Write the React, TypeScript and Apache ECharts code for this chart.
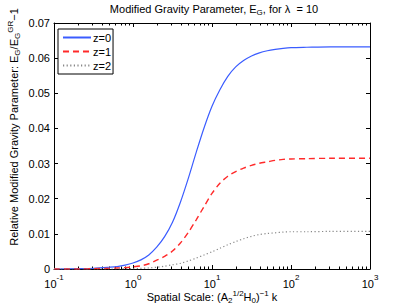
import React, { useEffect, useRef } from "react";
import * as echarts from "echarts";

const kValues = [0.1, 0.2, 0.316, 0.501, 0.631, 0.794, 1, 1.259, 1.585, 1.995, 2.512, 3.162, 3.981, 5.012, 6.31, 7.943, 10, 12.59, 15.85, 19.95, 25.12, 31.62, 39.81, 50.12, 63.1, 79.43, 100, 158.5, 316.2, 1000];
const z0Values = [0, 0.0001, 0.0002, 0.0005, 0.0007, 0.0011, 0.0017, 0.0026, 0.004, 0.0062, 0.0092, 0.0133, 0.019, 0.0258, 0.0332, 0.0402, 0.0463, 0.051, 0.0548, 0.0575, 0.0593, 0.0606, 0.0615, 0.0621, 0.0625, 0.0628, 0.063, 0.0631, 0.0632, 0.0632];
const z1Values = [0, 0, 0.0001, 0.0002, 0.0003, 0.0004, 0.0006, 0.0009, 0.0015, 0.0025, 0.0036, 0.0051, 0.0074, 0.0104, 0.014, 0.0178, 0.0215, 0.0244, 0.0264, 0.0277, 0.0287, 0.0295, 0.0301, 0.0305, 0.0309, 0.0312, 0.0313, 0.0314, 0.0315, 0.0315];
const z2Values = [0, 0, 0, 0, 0, 0.0001, 0.0001, 0.0002, 0.0003, 0.0005, 0.0008, 0.0012, 0.0016, 0.0023, 0.0031, 0.004, 0.0049, 0.0059, 0.0069, 0.0078, 0.0086, 0.0093, 0.0098, 0.0101, 0.0103, 0.0105, 0.0106, 0.0106, 0.0107, 0.0107];
const seriesNames = ["z=0", "z=1", "z=2"];
const yTickLabels = ["0", "0.01", "0.02", "0.03", "0.04", "0.05", "0.06", "0.07"];

const COLORS = ["#3a5cff", "#ff2a2a", "#888888"];
const DASHES: any[] = ["solid", [6, 4], [1.2, 2.4]];
const WIDTHS = [1.2, 1.4, 1.2];

const minorTickKs: number[] = [];
[0.1, 1, 10, 100].forEach((d) => {
  for (let m = 2; m <= 9; m++) minorTickKs.push(+(m * d).toPrecision(3));
});

const FONT = "Liberation Sans, Arial, Helvetica, sans-serif";

export default function App() {
  const ref = useRef<HTMLDivElement>(null);
  useEffect(() => {
    if (!ref.current) return;
    const chart = echarts.init(ref.current, null, { renderer: "svg" });
    const pair = (vals: number[]) => kValues.map((k, i) => [k, vals[i]]);
    const xBase = {
      type: "log" as const,
      logBase: 10,
      min: 0.1,
      max: 1000,
      splitNumber: 4,
      splitLine: { show: false },
      axisLine: { show: true, onZero: false, lineStyle: { color: "#000", width: 1 } },
      axisTick: { show: true, inside: true, length: 4, lineStyle: { color: "#000" } },
    };
    const yBase = {
      type: "value" as const,
      min: 0,
      max: 0.07,
      interval: 0.01,
      splitLine: { show: false },
      axisLine: { show: true, lineStyle: { color: "#000", width: 1 } },
      axisTick: { show: true, inside: true, length: 4, lineStyle: { color: "#000" } },
    };
    const allValues = [z0Values, z1Values, z2Values];
    chart.setOption({
      animation: false,
      backgroundColor: "#fff",
      textStyle: { fontFamily: FONT },
      grid: { left: 54, right: 39, top: 23, bottom: 39, containLabel: false },
      legend: {
        data: seriesNames,
        orient: "vertical",
        left: 58,
        top: 29,
        itemWidth: 28,
        itemHeight: 10,
        itemGap: 3,
        padding: [3, 2, 3, 4],
        borderColor: "#000",
        borderWidth: 1,
        backgroundColor: "#fff",
        itemStyle: { opacity: 0 },
        textStyle: { fontFamily: FONT, fontSize: 11, color: "#000", padding: [0, 0, 0, -3] },
      },
      xAxis: [
        {
          ...xBase,
          position: "bottom",
          axisLabel: {
            show: true,
            margin: 4,
            formatter: (v: number) => `{b|10}{s|${Math.round(Math.log10(v))}}`,
            rich: {
              b: { fontSize: 11, fontFamily: FONT, color: "#000", verticalAlign: "bottom", lineHeight: 16 },
              s: { fontSize: 8, fontFamily: FONT, color: "#000", verticalAlign: "top", lineHeight: 16, padding: [0, 0, 6, 0] },
            },
          },
        },
        { ...xBase, position: "top", axisLabel: { show: false } },
      ],
      yAxis: [
        {
          ...yBase,
          position: "left",
          axisLabel: {
            margin: 4,
            fontSize: 11,
            fontFamily: FONT,
            color: "#000",
            formatter: (v: number) => yTickLabels[Math.round(v * 100)] ?? "",
          },
        },
        { ...yBase, position: "right", axisLabel: { show: false } },
      ],
      graphic: [
        {
          type: "text",
          x: 214,
          y: 9,
          style: {
            text: "{n|Modified Gravity Parameter, E}{sub|G}{n|, for λ  = 10}",
            align: "center",
            verticalAlign: "middle",
            rich: {
              n: { fontSize: 11, fontFamily: FONT, fill: "#000" },
              sub: { fontSize: 8, fontFamily: FONT, fill: "#000", padding: [6, 0, 0, 0] },
            },
          },
        },
        {
          type: "text",
          x: 212,
          y: 297,
          style: {
            text: "{n|Spatial Scale: (A}{sub|2}{sup|1/2}{n|H}{sub|0}{n|)}{sup|−1}{n| k}",
            align: "center",
            verticalAlign: "middle",
            rich: {
              n: { fontSize: 11, fontFamily: FONT, fill: "#000" },
              sub: { fontSize: 8, fontFamily: FONT, fill: "#000", padding: [7, 0, 0, 0] },
              sup: { fontSize: 8, fontFamily: FONT, fill: "#000", padding: [0, 0, 7, 0] },
            },
          },
        },
        {
          type: "text",
          x: 14,
          y: 127,
          rotation: Math.PI / 2,
          style: {
            text: "{n|Relative Modified Gravity Parameter: E}{sub|G}{n|/E}{sub|G}{sup|GR}{n|−1}",
            align: "center",
            verticalAlign: "middle",
            rich: {
              n: { fontSize: 11, fontFamily: FONT, fill: "#000" },
              sub: { fontSize: 8, fontFamily: FONT, fill: "#000", padding: [7, 0, 0, 0] },
              sup: { fontSize: 8, fontFamily: FONT, fill: "#000", padding: [0, 0, 7, 0] },
            },
          },
        },
      ],
      series: [
        ...seriesNames.map((name, i) => ({
          name,
          type: "line",
          data: pair(allValues[i]),
          symbol: "none",
          smooth: 0.3,
          lineStyle: { color: COLORS[i], width: WIDTHS[i], type: DASHES[i] },
          itemStyle: { color: COLORS[i] },
        })),
        {
          name: "minorTicks",
          type: "custom",
          silent: true,
          clip: false,
          data: minorTickKs.map((k) => [k, 0]),
          encode: { x: 0, y: 1 },
          renderItem: (params: any, api: any) => {
            const x = Math.round(api.coord([api.value(0), 0])[0]) + 0.5;
            const cs = params.coordSys;
            const b = cs.y + cs.height;
            return {
              type: "group",
              children: [
                { type: "line", shape: { x1: x, y1: b, x2: x, y2: b - 2.5 }, style: { stroke: "#000", lineWidth: 1 } },
                { type: "line", shape: { x1: x, y1: cs.y, x2: x, y2: cs.y + 2.5 }, style: { stroke: "#000", lineWidth: 1 } },
              ],
            };
          },
        },
      ],
    });
    return () => chart.dispose();
  }, []);
  return <div ref={ref} style={{ width: 409, height: 308, position: "absolute", left: 0, top: 0 }} />;
}
